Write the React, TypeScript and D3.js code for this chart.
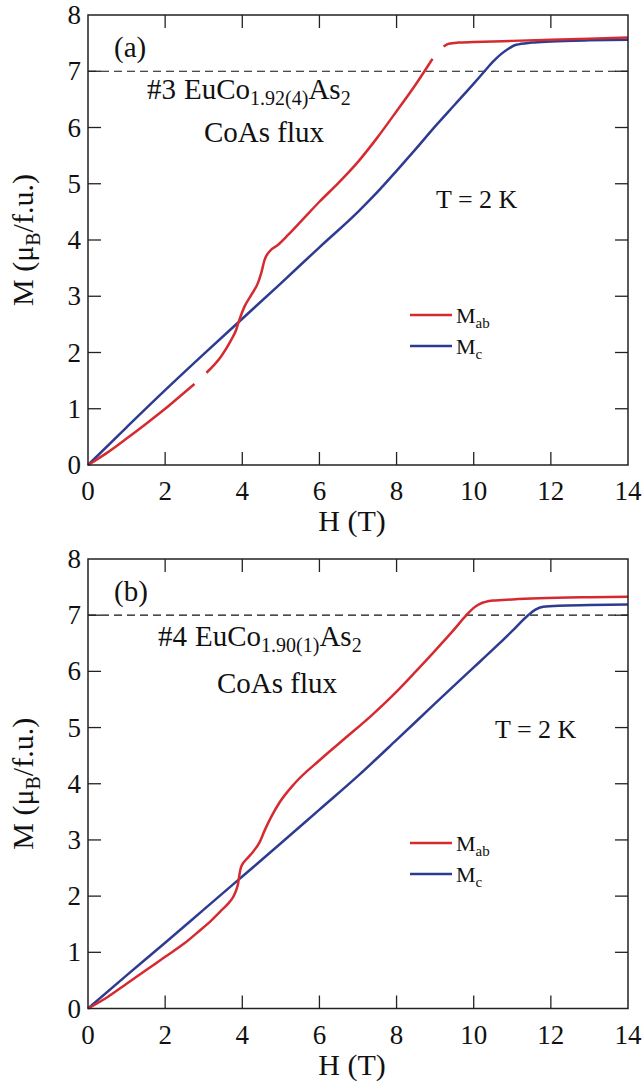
import * as d3 from "d3";

// Panel (a) #3, Panel (b) #4 -- M(H) at T = 2 K; null marks a gap in the trace
const hAab = [0, 0.5, 1, 1.5, 2, 2.5, 2.76, null, 3.07, 3.45, 3.71, 3.84, 3.9, 4.06, 4.23, 4.42, 4.49, 4.58, 4.71, 4.92, 5.2, 5.6, 6.0, 6.5, 7.0, 7.5, 8.0, 8.5, 8.93, null, 9.22, 9.35, 9.6, 10, 11, 12, 13, 14];
const mAab = [0, 0.22, 0.47, 0.73, 1.0, 1.29, 1.44, null, 1.64, 1.93, 2.22, 2.4, 2.53, 2.82, 3.02, 3.26, 3.41, 3.65, 3.8, 3.91, 4.1, 4.39, 4.68, 5.02, 5.39, 5.82, 6.29, 6.77, 7.22, null, 7.44, 7.49, 7.51, 7.52, 7.54, 7.56, 7.58, 7.6];
const hAc = [0, 1, 2, 3, 4, 5, 6, 7, 7.5, 8, 8.5, 9, 9.5, 10, 10.28, 10.5, 10.7, 10.9, 11.1, 11.5, 12, 13, 14];
const mAc = [0, 0.67, 1.33, 1.97, 2.6, 3.23, 3.87, 4.5, 4.85, 5.23, 5.62, 6.02, 6.4, 6.78, 7.0, 7.17, 7.3, 7.4, 7.47, 7.51, 7.53, 7.55, 7.56];

const hBab = [0, 0.5, 1, 1.5, 2, 2.5, 2.85, 3.2, 3.45, 3.65, 3.76, 3.85, 3.89, 3.93, 3.97, 4.1, 4.23, 4.45, 4.58, 4.75, 4.97, 5.35, 6.04, 6.65, 7.39, 8.0, 8.5, 9.0, 9.46, 9.81, 10.0, 10.16, 10.5, 11, 11.7, 13, 14];
const mBab = [0, 0.2, 0.44, 0.68, 0.92, 1.16, 1.36, 1.57, 1.74, 1.88, 1.98, 2.12, 2.22, 2.4, 2.52, 2.65, 2.75, 2.96, 3.17, 3.41, 3.67, 4.0, 4.44, 4.8, 5.24, 5.64, 6.0, 6.37, 6.72, 7.0, 7.13, 7.2, 7.26, 7.28, 7.3, 7.32, 7.33];
const hBc = [0, 1, 2, 3, 4, 5, 6, 7, 8, 9, 10, 10.5, 11, 11.41, 11.6, 11.8, 12.2, 13, 14];
const mBc = [0, 0.59, 1.17, 1.76, 2.35, 2.94, 3.54, 4.14, 4.78, 5.43, 6.07, 6.39, 6.72, 7.0, 7.1, 7.15, 7.17, 7.18, 7.19];

const xTicks = [0, 2, 4, 6, 8, 10, 12, 14];
const yTicks = [0, 1, 2, 3, 4, 5, 6, 7, 8];

const RED = "#d62a31";
const BLUE = "#2d3c91";
const FONT = "Liberation Serif";

const left = 88;
const right = 628;

function Panel({ top, bottom, hab, mab, hc, mc, tag, sample, sub, txt, legend }: any) {
  const x = d3.scaleLinear().domain([0, 14]).range([left, right]);
  const y = d3.scaleLinear().domain([0, 8]).range([bottom, top]);
  const line = d3
    .line<[number | null, number | null]>()
    .defined((d) => d[0] != null)
    .x((d) => x(d[0] as number))
    .y((d) => y(d[1] as number))
    .curve(d3.curveMonotoneX);
  const ab = hab.map((h: any, i: number) => [h, mab[i]]);
  const c = hc.map((h: any, i: number) => [h, mc[i]]);
  const tl = 13;

  return (
    <g style={{ fontFamily: FONT }} fill="#111">
      <line x1={left} x2={right} y1={y(7)} y2={y(7)} stroke="#111" strokeWidth={1.2} strokeDasharray="8,5" />
      <path d={line(c) || ""} fill="none" stroke={BLUE} strokeWidth={2.5} />
      <path d={line(ab) || ""} fill="none" stroke={RED} strokeWidth={2.5} />
      <rect x={left} y={top} width={right - left} height={bottom - top} fill="none" stroke="#222" strokeWidth={1.5} />
      {xTicks.map((t) => (
        <g key={`x${t}`}>
          {t > 0 && t < 14 && (
            <>
              <line x1={x(t)} x2={x(t)} y1={bottom} y2={bottom - tl} stroke="#222" strokeWidth={1.3} />
              <line x1={x(t)} x2={x(t)} y1={top} y2={top + tl} stroke="#222" strokeWidth={1.3} />
            </>
          )}
          <text x={x(t)} y={bottom + 35} textAnchor="middle" fontSize={27}>{t}</text>
        </g>
      ))}
      {yTicks.map((t) => (
        <g key={`y${t}`}>
          {t > 0 && t < 8 && (
            <>
              <line x1={left} x2={left + tl} y1={y(t)} y2={y(t)} stroke="#222" strokeWidth={1.3} />
              <line x1={right} x2={right - tl} y1={y(t)} y2={y(t)} stroke="#222" strokeWidth={1.3} />
            </>
          )}
          <text x={81} y={y(t) + 9} textAnchor="end" fontSize={27}>{t}</text>
        </g>
      ))}
      <text x={(left + right) / 2 - 6} y={bottom + 66} textAnchor="middle" fontSize={30}>H (T)</text>
      <text transform={`translate(33,${(top + bottom) / 2}) rotate(-90)`} textAnchor="middle" fontSize={30}>
        M (μ<tspan fontSize={20} dy={7}>B</tspan><tspan dy={-7}>/f.u.)</tspan>
      </text>
      <text x={114} y={top + 42} fontSize={29}>{tag}</text>
      <text x={sample.x} y={sample.y} fontSize={29}>
        {txt}
        <tspan dx={8}>EuCo</tspan>
        <tspan fontSize={20} dy={6}>{sub}</tspan>
        <tspan dy={-6}>As</tspan>
        <tspan fontSize={20} dy={6}>2</tspan>
      </text>
      <text x={sample.fx} y={sample.fy} fontSize={29}>CoAs flux</text>
      <text x={sample.tx} y={sample.ty} fontSize={26}>T = 2 K</text>
      <line x1={410} x2={452} y1={legend} y2={legend} stroke={RED} strokeWidth={2.5} />
      <line x1={410} x2={452} y1={legend + 31} y2={legend + 31} stroke={BLUE} strokeWidth={2.5} />
      <text x={456} y={legend + 8} fontSize={22}>
        M<tspan fontSize={15} dy={5}>ab</tspan>
      </text>
      <text x={456} y={legend + 39} fontSize={22}>
        M<tspan fontSize={15} dy={5}>c</tspan>
      </text>
    </g>
  );
}

export default function App() {
  return (
    <svg width={643} height={1086} style={{ position: "absolute", left: 0, top: 0, background: "#fff" }}>
      <Panel
        top={15}
        bottom={465}
        hab={hAab}
        mab={mAab}
        hc={hAc}
        mc={mAc}
        tag="(a)"
        txt="#3"
        sub="1.92(4)"
        sample={{ x: 147, y: 99, fx: 204, fy: 142, tx: 436, ty: 208 }}
        legend={315}
      />
      <Panel
        top={559}
        bottom={1008.5}
        hab={hBab}
        mab={mBab}
        hc={hBc}
        mc={mBc}
        tag="(b)"
        txt="#4"
        sub="1.90(1)"
        sample={{ x: 158, y: 646, fx: 217, fy: 693, tx: 495, ty: 738 }}
        legend={843}
      />
    </svg>
  );
}
